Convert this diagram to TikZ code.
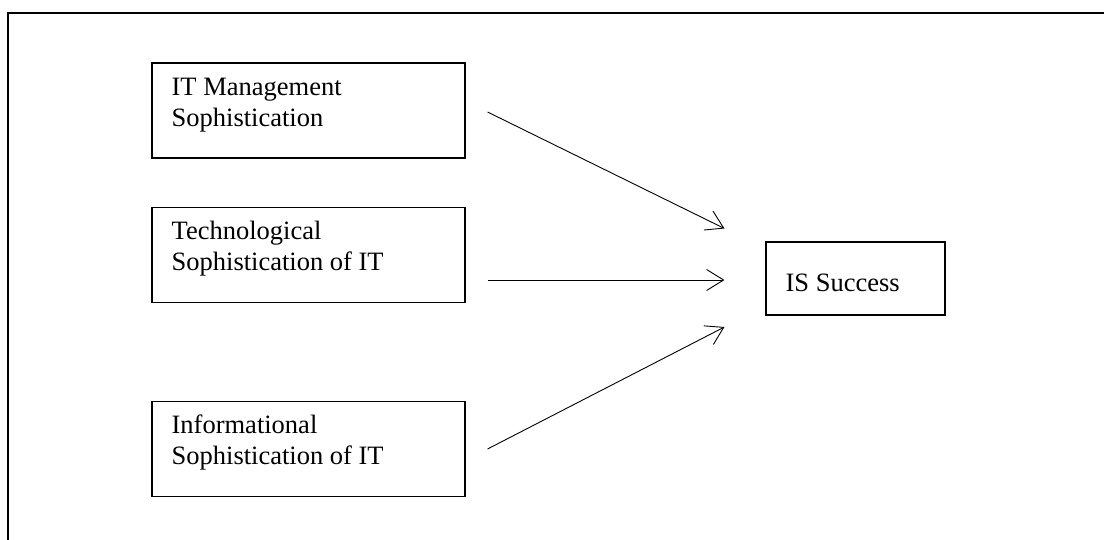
\documentclass[tikz,border=0pt]{standalone}
\usepackage{fontspec}
\setmainfont{Liberation Serif}
\usetikzlibrary{arrows.meta,calc}
\tikzset{
  box/.style={draw, line width=1.1pt, rectangle, inner sep=0pt},
  lbl/.style={anchor=base west, inner sep=0pt, align=left,
    font=\fontsize{26.5}{31}\selectfont},
  link/.style={line width=0.9pt, -{Straight Barb[length=17pt,width=21pt,line width=0.9pt]}},
  frame/.style={line width=1.4pt}
}
\begin{document}
\begin{tikzpicture}[x=1pt,y=-1pt]
  \useasboundingbox (0,0) rectangle (1104,540);
  % open frame: top and left edges only
  \coordinate (ftr) at (1104,13);
  \coordinate (ftl) at (8,13);
  \coordinate (fbl) at (8,540);
  \draw[frame] (ftr) -- (ftl) -- (fbl);

  % factor boxes
  \node[box, minimum width=313pt, minimum height=95pt] (b1) at (308.5,110.5) {};
  \node[box, minimum width=313pt, minimum height=95pt] (b2) at (308.5,255) {};
  \node[box, minimum width=313pt, minimum height=95pt] (b3) at (308.5,449) {};
  \node[box, minimum width=179pt, minimum height=73pt] (is) at (855.5,278.5) {};

  % labels: base anchor sits on the last line of a two-line label
  \node[lbl] (t1) at ($(b1.north west)+(20,64)$) {IT Management\\Sophistication};
  \node[lbl] (t2) at ($(b2.north west)+(20,64)$) {Technological\\Sophistication of IT};
  \node[lbl] (t3) at ($(b3.north west)+(20,64)$) {Informational\\Sophistication of IT};
  \node[lbl] (t4) at ($(is.north west)+(20,50)$) {IS Success};

  % influences on IS success
  \draw[link] ($(b1.east)+(22,1.5)$) -- ($(is.west)+(-41,-50)$);
  \draw[link] ($(b2.east)+(22,25)$) -- ($(is.west)+(-41,1.5)$);
  \draw[link] ($(b3.east)+(22,0)$) -- ($(is.west)+(-41,48.5)$);
\end{tikzpicture}
\end{document}
